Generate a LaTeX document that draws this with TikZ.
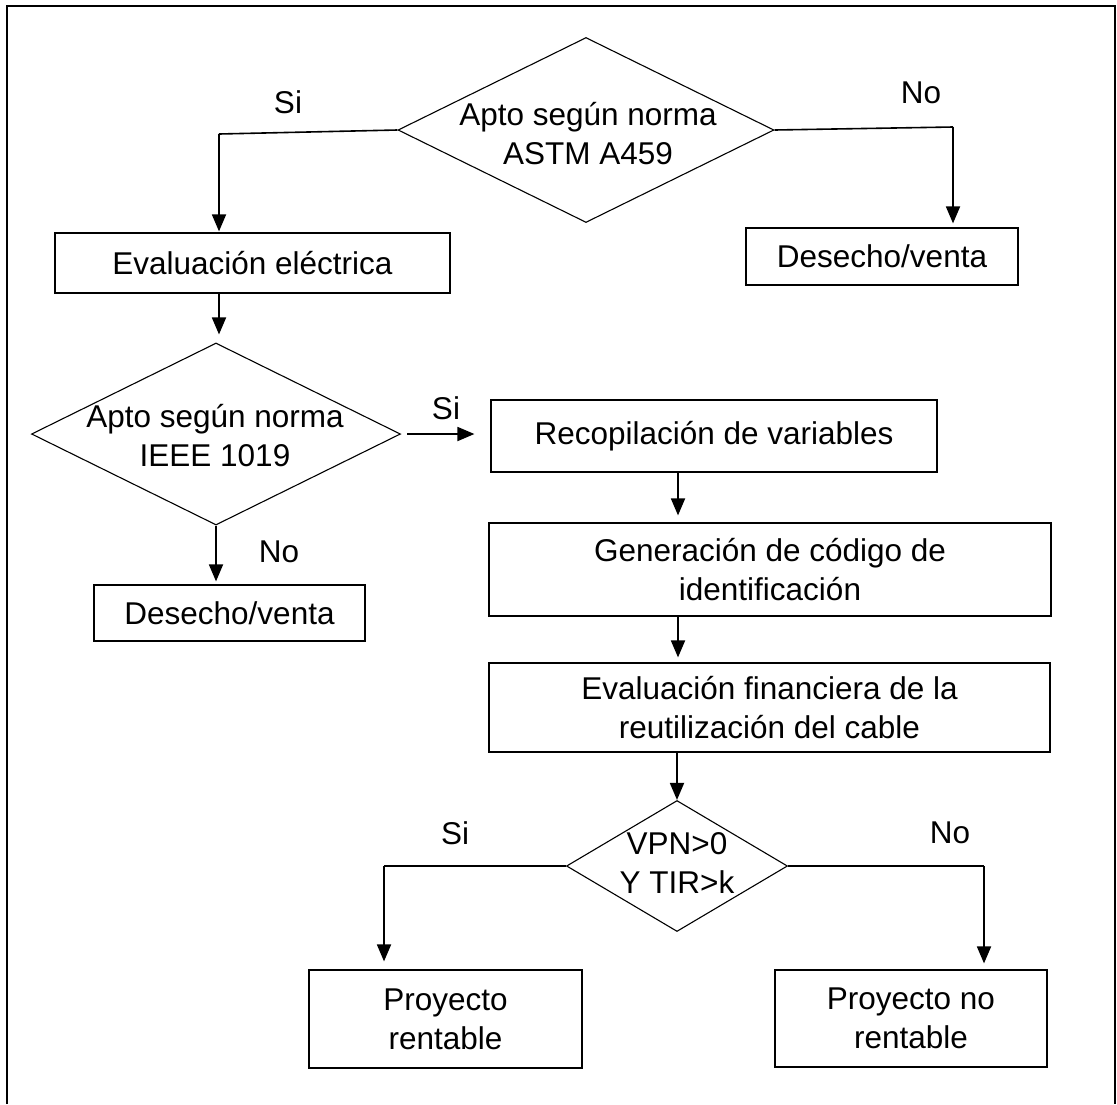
\documentclass[tikz,border=0pt]{standalone}
\usepackage{fontspec}
\setmainfont{Liberation Sans}
\usetikzlibrary{shapes.geometric,arrows.meta,calc}

\begin{document}
\begin{tikzpicture}[x=1pt, y=-1pt,
    every node/.style={font=\fontsize{31.5}{39}\selectfont, inner sep=0pt, align=center},
    box/.style={draw, line width=1.2pt, rectangle},
    decision/.style={draw, line width=1.1pt, diamond},
    arr/.style={line width=1.8pt, -{Triangle[length=17pt,width=14pt]}},
    lin/.style={line width=1.6pt}]
    \useasboundingbox (0,0) rectangle (1117,1104);
    \draw[line width=1.2pt] (7,1104) -- (7,6) -- (1115,6) -- (1115,1104);
    % decisions
    \node[decision, minimum width=376, minimum height=185] (d1) at (586,130) {};
    \node (t1) at (588,134) {Apto según norma\\ASTM A459};
    \node[decision, minimum width=369, minimum height=182] (d2) at (216,434) {};
    \node (t2) at (215,436) {Apto según norma\\IEEE 1019};
    \node[decision, minimum width=221, minimum height=131] (d3) at (677,866) {};
    \node (t3) at (677,863) {VPN>0\\Y TIR>k};
    % boxes
    \node[box, minimum width=395, minimum height=60] (eval) at (252.5,263) {Evaluación eléctrica};
    \node[box, minimum width=272, minimum height=57] (des1) at (882,256.5) {Desecho/venta};
    \node[box, minimum width=446, minimum height=72] (recop) at (714,436) {Recopilación de variables};
    \node[box, minimum width=271, minimum height=56] (des2) at (229.5,613) {Desecho/venta};
    \node[box, minimum width=562, minimum height=93] (gener) at (770,569.5) {Generación de código de\\identificación};
    \node[box, minimum width=561, minimum height=89] (finan) at (769.5,707.5) {Evaluación financiera de la\\reutilización del cable};
    \node[box, minimum width=273, minimum height=98] (rent) at (445.5,1019) {Proyecto\\rentable};
    \node[box, minimum width=272, minimum height=97] (norent) at (911,1018.5) {Proyecto no\\rentable};
    % corners
    \coordinate (k1) at (219,134);
    \coordinate (k2) at (953,127);
    \coordinate (k3) at (384,866);
    \coordinate (k4) at (984,866);
    \coordinate (c1) at (678,0);
    % connectors
    \draw[lin] (d1.west) -- (k1);
    \draw[arr] (k1) -- ([yshift=1pt]k1 |- eval.north);
    \draw[arr] (eval.south -| k1) -- ([yshift=8pt]d2.north -| k1);
    \draw[lin] (d1.east) -- (k2);
    \draw[arr] (k2) -- ([yshift=4pt]k2 |- des1.north);
    \draw[arr] ([xshift=6pt]d2.east) -- ([xshift=-16pt]d2.east -| recop.west);
    \draw[arr] (d2.south) -- ([yshift=3pt]d2.south |- des2.north);
    \draw[arr] (recop.south -| c1) -- ([yshift=7pt]gener.north -| c1);
    \draw[arr] (gener.south -| c1) -- ([yshift=5pt]finan.north -| c1);
    \draw[arr] (finan.south -| d3.north) -- (d3.north);
    \draw[lin] (d3.west) -- (k3);
    \draw[arr] (k3) -- ([yshift=8pt]k3 |- rent.north);
    \draw[lin] (d3.east) -- (k4);
    \draw[arr] (k4) -- ([yshift=6pt]k4 |- norent.north);
    % labels
    \node (si1) at (288,102) {Si};
    \node (no1) at (921,93) {No};
    \node (si2) at (446,408) {Si};
    \node (no2) at (279,552) {No};
    \node (si3) at (455,833) {Si};
    \node (no3) at (950,833) {No};
\end{tikzpicture}
\end{document}
